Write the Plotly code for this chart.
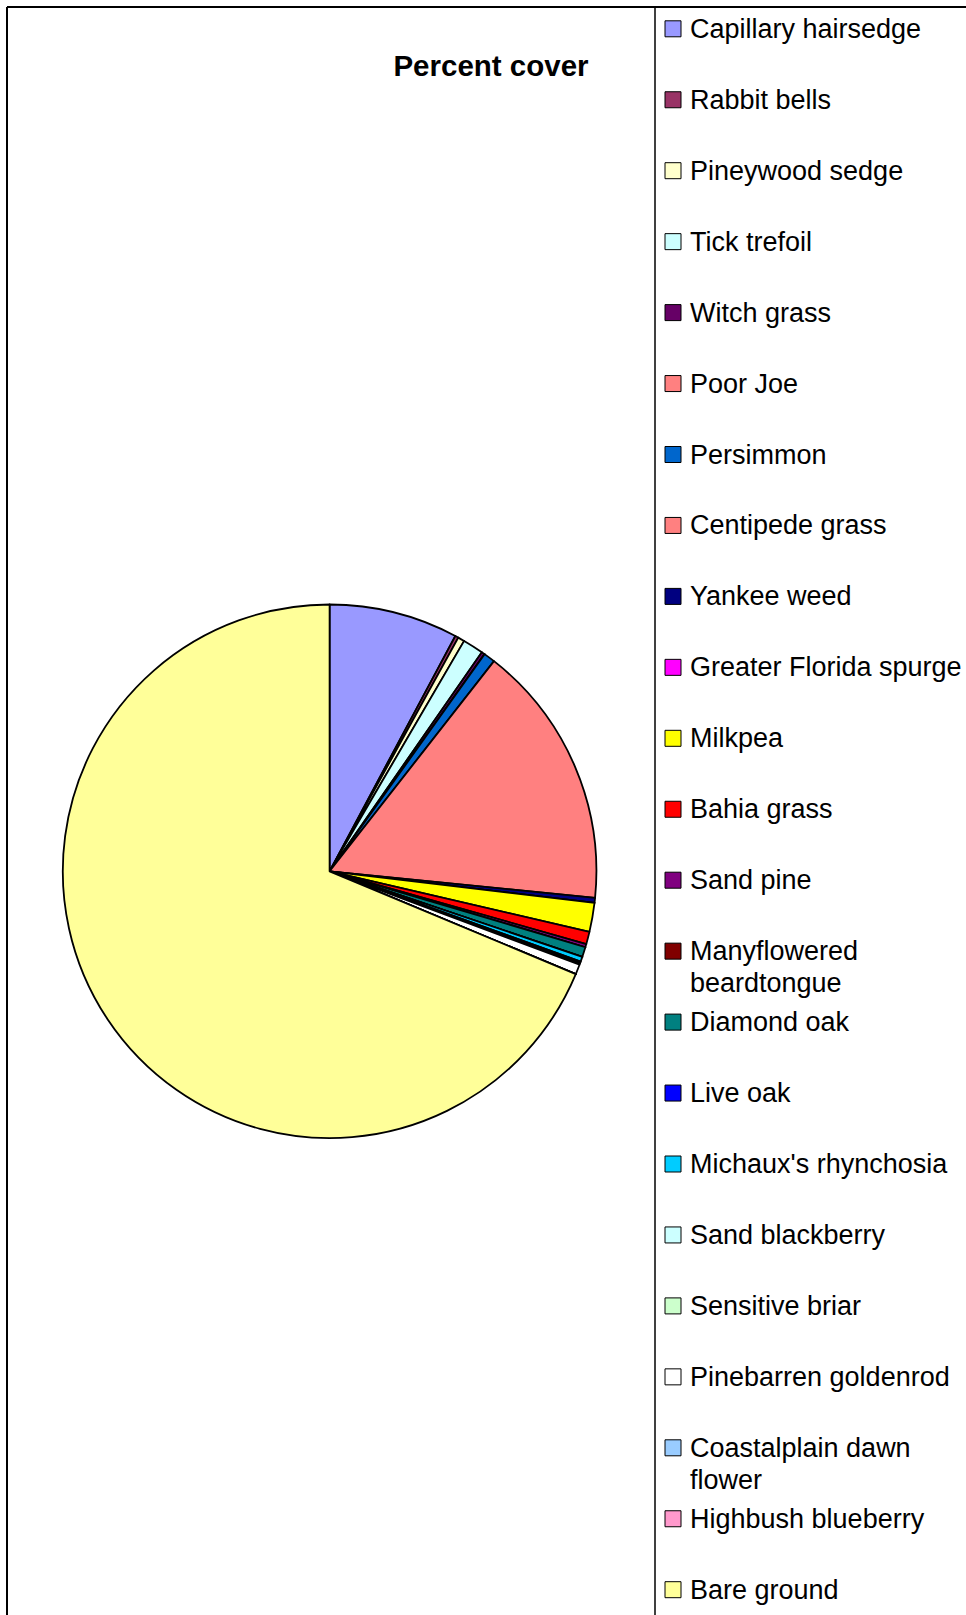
import plotly.graph_objects as go

# ---- data ----
species = [
    "Capillary hairsedge", "Rabbit bells", "Pineywood sedge", "Tick trefoil",
    "Witch grass", "Poor Joe", "Persimmon", "Centipede grass", "Yankee weed",
    "Greater Florida spurge", "Milkpea", "Bahia grass", "Sand pine",
    "Manyflowered beardtongue", "Diamond oak", "Live oak", "Michaux's rhynchosia",
    "Sand blackberry", "Sensitive briar", "Pinebarren goldenrod",
    "Coastalplain dawn flower", "Highbush blueberry", "Bare ground",
]
legend_text = [
    "Capillary hairsedge", "Rabbit bells", "Pineywood sedge", "Tick trefoil",
    "Witch grass", "Poor Joe", "Persimmon", "Centipede grass", "Yankee weed",
    "Greater Florida spurge", "Milkpea", "Bahia grass", "Sand pine",
    "Manyflowered<br>beardtongue", "Diamond oak", "Live oak", "Michaux's rhynchosia",
    "Sand blackberry", "Sensitive briar", "Pinebarren goldenrod",
    "Coastalplain dawn<br>flower", "Highbush blueberry", "Bare ground",
]
percent_cover = [
    7.8, 0.2, 0.4, 1.25,
    0.2, 0.0, 0.7, 16.0, 0.3,
    0.0, 1.75, 0.75, 0.2,
    0.0, 0.6, 0.0, 0.3,
    0.1, 0.1, 0.6,
    0.0, 0.0, 68.6,
]
colors = [
    "#9999FF", "#993366", "#FFFFCC", "#CCFFFF",
    "#660066", "#FF8080", "#0066CC", "#FF8080", "#000080",
    "#FF00FF", "#FFFF00", "#FF0000", "#800080",
    "#800000", "#008080", "#0000FF", "#00CCFF",
    "#CCFFFF", "#CCFFCC", "#FFFFFF",
    "#99CCFF", "#FF99CC", "#FFFF99",
]
title_text = "Percent cover"

# ---- layout helpers ----
W, H = 966, 1615
def px(x):
    return x / W
def py(y):
    return 1 - y / H

FONT = "Liberation Sans, Arial, sans-serif"

cx, cy, R = 329.6, 871.3, 266.8

fig = go.Figure()
fig.add_trace(go.Pie(
    labels=species,
    values=percent_cover,
    marker=dict(colors=colors, line=dict(color="black", width=1.8)),
    sort=False,
    direction="clockwise",
    rotation=0,
    textinfo="none",
    hoverinfo="label+value",
    showlegend=False,
    domain=dict(x=[px(cx - R), px(cx + R)], y=[py(cy + R), py(cy - R)]),
))

shapes = []
annotations = []
# frame lines
shapes.append(dict(type="line", xref="paper", yref="paper",
                   x0=px(7), x1=1, y0=py(7), y1=py(7), line=dict(color="black", width=2)))
shapes.append(dict(type="line", xref="paper", yref="paper",
                   x0=px(7), x1=px(7), y0=py(7), y1=0, line=dict(color="black", width=2)))
shapes.append(dict(type="line", xref="paper", yref="paper",
                   x0=px(655), x1=px(655), y0=py(7), y1=0, line=dict(color="black", width=1.5)))

# manual legend
fs = 27
line_gap = 32
y0, step = 28.8, 70.95
for i, (txt, col) in enumerate(zip(legend_text, colors)):
    yc = y0 + i * step
    shapes.append(dict(type="rect", xref="paper", yref="paper",
                       x0=px(665), x1=px(681), y0=py(yc + 8), y1=py(yc - 8),
                       fillcolor=col, line=dict(color="black", width=1)))
    for k, part in enumerate(txt.split("<br>")):
        annotations.append(dict(xref="paper", yref="paper", x=px(688), y=py(yc + k * line_gap),
                                xanchor="left", yanchor="middle", align="left",
                                text=part, showarrow=False,
                                font=dict(family=FONT, size=fs, color="black")))

fig.update_layout(
    width=W, height=H,
    margin=dict(l=0, r=0, t=0, b=0),
    paper_bgcolor="white",
    plot_bgcolor="white",
    title=dict(text="<b>" + title_text + "</b>", x=px(491), xanchor="center",
               y=py(66), yanchor="middle",
               font=dict(family=FONT, size=29.5, color="black")),
    shapes=shapes,
    annotations=annotations,
)

fig.write_html("out.html")
